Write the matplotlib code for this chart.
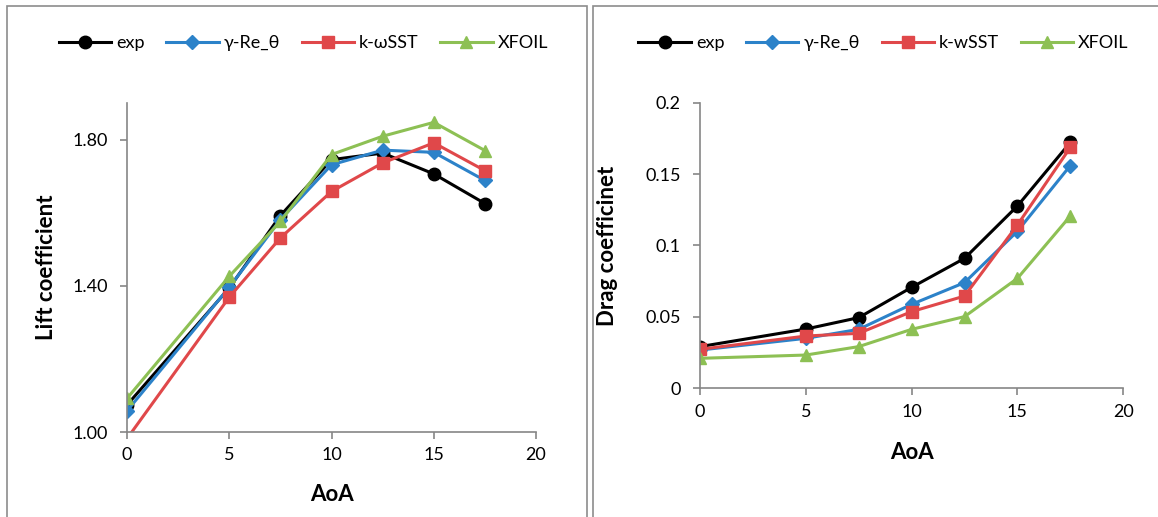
import matplotlib
matplotlib.use("Agg")
import matplotlib.pyplot as plt
from matplotlib.patches import Rectangle

plt.rcParams['font.family'] = ['Lato', 'DejaVu Sans']

aoa = [0, 5, 7.5, 10, 12.5, 15, 17.5]

# lift coefficient
cl_exp = [1.074, 1.394, 1.592, 1.745, 1.763, 1.706, 1.625]
cl_gamma = [1.058, 1.396, 1.581, 1.731, 1.771, 1.765, 1.688]
cl_sst = [0.982, 1.369, 1.531, 1.658, 1.736, 1.791, 1.715]
cl_xfoil = [1.092, 1.426, 1.576, 1.759, 1.809, 1.847, 1.770]

# drag coefficient
cd_exp = [0.0292, 0.0415, 0.0495, 0.0707, 0.0910, 0.1277, 0.1722]
cd_gamma = [0.0268, 0.0350, 0.0413, 0.0588, 0.0740, 0.1100, 0.1560]
cd_sst = [0.0273, 0.0366, 0.0385, 0.0537, 0.0646, 0.1144, 0.1687]
cd_xfoil = [0.0210, 0.0233, 0.0292, 0.0413, 0.0502, 0.0770, 0.1207]

lift_labels = ['exp', 'γ-Re_θ', 'k-ωSST', 'XFOIL']
drag_labels = ['exp', 'γ-Re_θ', 'k-wSST', 'XFOIL']

colors = ['black', '#2C82C9', '#E0484A', '#8DC054']
markers = ['o', 'D', 's', '^']
msizes = [9, 7, 8.5, 9]
grey = '#868686'

fig = plt.figure(figsize=(11.58, 5.17), dpi=100)

# panel frames
fig.patches.append(Rectangle((7 / 1158, -0.1), 580 / 1158, 1.1 - 6 / 517,
                             transform=fig.transFigure, fill=False,
                             edgecolor='#8c8c8c', lw=1.2))
fig.patches.append(Rectangle((593 / 1158, -0.1), 0.6, 1.1 - 6 / 517,
                             transform=fig.transFigure, fill=False,
                             edgecolor='#8c8c8c', lw=1.2))

ax1 = fig.add_axes([0.1097, 0.1644, 0.3532, 0.6364])
ax2 = fig.add_axes([0.6045, 0.2489, 0.3655, 0.5525])


def style(ax):
    for s in ['top', 'right']:
        ax.spines[s].set_visible(False)
    for s in ['left', 'bottom']:
        ax.spines[s].set_color(grey)
        ax.spines[s].set_linewidth(1.2)
    ax.tick_params(direction='out', length=5, width=1.2, color=grey,
                   labelsize=13, labelcolor='black', pad=6)
    ax.tick_params(axis='y', pad=9)
    ax.set_xlim(0, 20)
    ax.set_xticks([0, 5, 10, 15, 20])


def legend(ax, cx):
    ax.legend(loc='center', bbox_to_anchor=(cx, 0.917),
              bbox_transform=fig.transFigure, ncol=4, frameon=False,
              fontsize=13, handlelength=2.9, handletextpad=0.28,
              columnspacing=1.2)


series1 = [cl_exp, cl_gamma, cl_sst, cl_xfoil]
for ys, lab, c, m, ms in zip(series1, lift_labels, colors, markers, msizes):
    ax1.plot(aoa, ys, color=c, marker=m, ms=ms, lw=2.2, label=lab)
style(ax1)
ax1.set_ylim(1.0, 1.9)
ax1.set_yticks([1.0, 1.4, 1.8])
ax1.set_yticklabels(['1.00', '1.40', '1.80'])
ax1.set_xlabel('AoA', fontsize=16, fontweight='bold', va='center')
ax1.xaxis.set_label_coords(0.5, -0.19)
ax1.set_ylabel('Lift coefficient', fontsize=16, fontweight='bold', va='center')
ax1.yaxis.set_label_coords(-0.197, 0.5)
legend(ax1, 0.262)

series2 = [cd_exp, cd_gamma, cd_sst, cd_xfoil]
for ys, lab, c, m, ms in zip(series2, drag_labels, colors, markers, msizes):
    ax2.plot(aoa, ys, color=c, marker=m, ms=ms, lw=2.2, label=lab)
style(ax2)
ax2.set_ylim(0, 0.2)
ax2.set_yticks([0, 0.05, 0.1, 0.15, 0.2])
ax2.set_yticklabels(['0', '0.05', '0.1', '0.15', '0.2'])
ax2.set_xlabel('AoA', fontsize=16, fontweight='bold', va='center')
ax2.xaxis.set_label_coords(0.5, -0.223)
ax2.set_ylabel('Drag coefficinet', fontsize=16, fontweight='bold', va='center')
ax2.yaxis.set_label_coords(-0.2175, 0.5)
legend(ax2, 0.763)

fig.savefig('out.png', dpi=100)
